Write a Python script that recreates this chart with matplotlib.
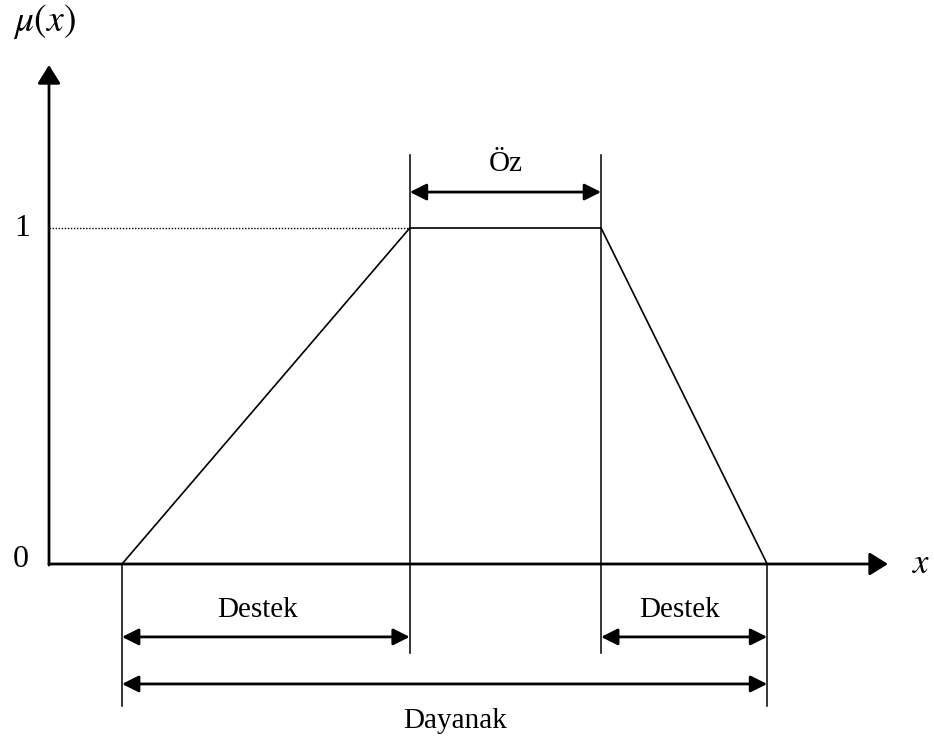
import matplotlib
matplotlib.use("Agg")
import matplotlib.pyplot as plt

plt.rcParams['font.family'] = ['Liberation Serif', 'DejaVu Serif']
plt.rcParams['mathtext.fontset'] = 'stix'

# Trapezoid membership function points
xs = [0.87, 4.30, 6.58, 8.56]
mu = [0, 1, 1, 0]
x_end = 10.0
y_top = 1.485

# Annotation levels
oz_y = 1.107
vert_top = 1.217
destek_y = -0.217
inner_bottom = -0.265
dayanak_y = -0.357
outer_bottom = -0.423

labels = {"core": "Öz", "support": "Destek", "base": "Dayanak"}

fig = plt.figure(figsize=(9.34, 7.40), dpi=100)
ax = fig.add_axes([0, 0, 1, 1])
ax.set_xlim(-0.584, 10.548)
ax.set_ylim(-0.5238, 1.6786)
ax.axis('off')

a, b, c, d = xs

# axes with arrows
ax.annotate('', xy=(x_end, 0), xytext=(0, 0),
            arrowprops=dict(arrowstyle='-|>,head_length=0.45,head_width=0.28', lw=2.0,
                            color='black', mutation_scale=25, shrinkA=0, shrinkB=0))
ax.annotate('', xy=(0, y_top), xytext=(0, -0.003),
            arrowprops=dict(arrowstyle='-|>,head_length=0.45,head_width=0.28', lw=2.0,
                            color='black', mutation_scale=25, shrinkA=0, shrinkB=0))

# trapezoid
ax.plot(xs, mu, color='black', lw=1.2, solid_joinstyle='miter')
# dotted line at 1
ax.plot([0, b], [1, 1], color='black', lw=1.0, linestyle=(0, (1, 1.2)))

# vertical lines
ax.plot([b, b], [inner_bottom, vert_top], color='black', lw=1.1)
ax.plot([c, c], [inner_bottom, vert_top], color='black', lw=1.1)
ax.plot([a, a], [outer_bottom, 0], color='black', lw=1.1)
ax.plot([d, d], [outer_bottom, 0], color='black', lw=1.1)

dim = dict(arrowstyle='<|-|>,head_length=0.4,head_width=0.2', lw=2.0, color='black',
           mutation_scale=25, shrinkA=0, shrinkB=0)
ax.annotate('', xy=(c, oz_y), xytext=(b, oz_y), arrowprops=dim)
ax.annotate('', xy=(b, destek_y), xytext=(a, destek_y), arrowprops=dim)
ax.annotate('', xy=(d, destek_y), xytext=(c, destek_y), arrowprops=dim)
ax.annotate('', xy=(d, dayanak_y), xytext=(a, dayanak_y), arrowprops=dim)

fs = 21
ax.text((b + c) / 2, 1.19, labels["core"], ha='center', va='center', fontsize=fs)
ax.text(2.48, -0.137, labels["support"], ha='center', va='center', fontsize=fs)
ax.text(7.52, -0.137, labels["support"], ha='center', va='center', fontsize=fs)
ax.text(4.84, -0.468, labels["base"], ha='center', va='center', fontsize=fs)

ax.text(-0.32, 1.0, '1', ha='center', va='center', fontsize=23)
ax.text(-0.34, 0.012, '0', ha='center', va='center', fontsize=23)
ax.text(10.4, 0.0, r'$x$', ha='center', va='center', fontsize=25)
ax.text(-0.05, 1.615, r'$\mu(x)$', ha='center', va='center', fontsize=27)

fig.savefig('out.png', dpi=100)
